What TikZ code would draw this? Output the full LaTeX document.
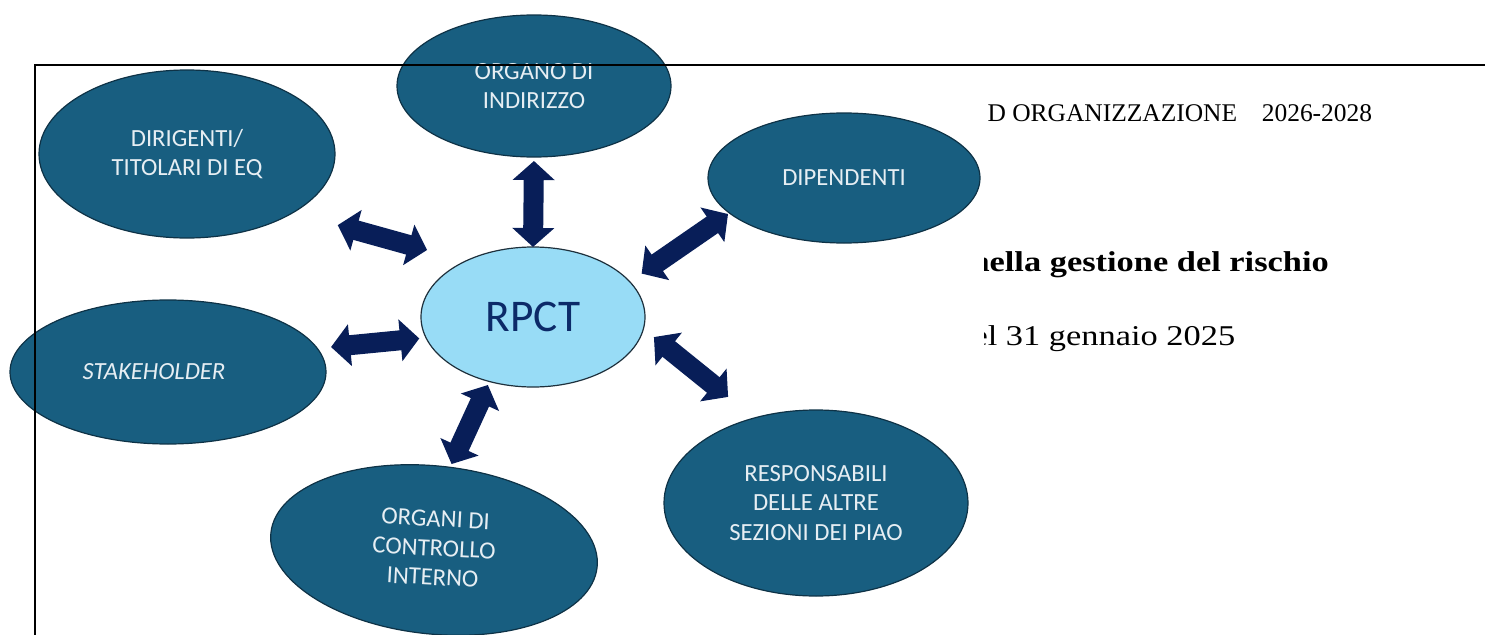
\documentclass[tikz,border=0pt]{standalone}
\usepackage{fontspec}
\setmainfont{Liberation Serif}
\newfontfamily\bubblefont{Carlito}
\newfontfamily\wideserif[FakeStretch=1.2]{Liberation Serif}
\usetikzlibrary{shapes.geometric,arrows.meta}

\definecolor{bubblefill}{RGB}{24,94,128}
\definecolor{bubbleline}{RGB}{14,50,70}
\definecolor{bubbletext}{RGB}{230,238,243}
\definecolor{rpctfill}{RGB}{152,220,246}
\definecolor{rpctline}{RGB}{30,48,60}
\definecolor{rpcttext}{RGB}{12,42,104}
\definecolor{arrownavy}{RGB}{8,30,88}

\tikzset{every picture/.style={line width=0.75pt}}
\tikzset{
  bubble/.style={ellipse, draw=bubbleline, fill=bubblefill, line width=0.9pt, inner sep=0pt, outer sep=0pt,
    text=bubbletext, align=center, font=\bubblefont\fontsize{18.5}{22}\selectfont},
  biarrow/.style={draw=arrownavy, line width=15pt,
    {Triangle[width=30.75pt,length=14.25pt]}-{Triangle[width=30.75pt,length=14.25pt]}}
}

\begin{document}
\begin{tikzpicture}[x=0.75pt,y=0.75pt,yscale=-1,xscale=1]
\path [use as bounding box] (0,0) rectangle (1485,635);

%Shape: Ellipse
\node [bubble, minimum width=205.5pt, minimum height=106.5pt] (org) at (534,86) {ORGANO DI\\INDIRIZZO};
%Shape: Ellipse
\node [bubble, minimum width=222pt, minimum height=126pt] (dir) at (187,154) {DIRIGENTI/\\TITOLARI DI EQ};
%Shape: Ellipse
\node [bubble, minimum width=204pt, minimum height=97.5pt] (dip) at (844,178) {DIPENDENTI};
%Shape: Ellipse
\node [bubble, minimum width=237pt, minimum height=108pt] (stk) at (168,372) {{\itshape STAKEHOLDER}\hspace{21pt}};
%Shape: Ellipse
\node [bubble, rotate=-6, minimum width=246pt, minimum height=126pt] (oci) at (434,550)
  {\rotatebox{3}{\begin{tabular}{@{}c@{}}ORGANI DI\\CONTROLLO\\INTERNO\end{tabular}}};
%Shape: Ellipse
\node [bubble, minimum width=228pt, minimum height=139.5pt] (res) at (816,503) {RESPONSABILI\\DELLE ALTRE\\SEZIONI DEI PIAO};
%Shape: Ellipse
\node [ellipse, draw=rpctline, fill=rpctfill, line width=0.9pt, inner sep=0pt, outer sep=0pt, minimum width=168pt, minimum height=105pt,
  text=rpcttext, font=\bubblefont\fontsize{34}{40}\selectfont] (rpct) at (533,317) {RPCT};

%Straight Lines
\draw [biarrow, shorten <=3pt] (org.south) -- (rpct.north);
%Straight Lines
\draw [biarrow, shorten <=34.9pt, shorten >=30.4pt] (dir.-29) -- (rpct.140);
%Straight Lines
\draw [biarrow, shorten <=1.3pt, shorten >=10.8pt] (dip.197) -- (rpct.20);
%Straight Lines
\draw [biarrow, shorten <=10.4pt, shorten >=5.1pt] (stk.9) -- (rpct.191);
%Straight Lines
\draw [biarrow, shorten <=2.7pt, shorten >=2.9pt] (oci.85) -- (rpct.236);
%Straight Lines
\draw [biarrow, shorten <=25.2pt, shorten >=10.1pt] (res.126) -- (rpct.-6);

% Text Node
\node [anchor=base west, inner sep=0pt, font=\fontsize{19.1}{23}\selectfont] (hdr) at (987,121.5) {D ORGANIZZAZIONE\hspace{18.5pt}2026-2028};
\begin{scope}
\clip (984,230) rectangle (1485,370);
% Text Node
\node [anchor=base west, inner sep=0pt, font=\wideserif\bfseries\fontsize{21.5}{26}\selectfont] (risk) at (970,271.5) {nella gestione del rischio};
% Text Node
\node [anchor=base west, inner sep=0pt, font=\wideserif\fontsize{21.5}{26}\selectfont] (date) at (972,345) {el 31 gennaio 2025};
\end{scope}

%Straight Lines
\draw [line width=1.5pt] (1485,65) -- (35,65) -- (35,635);

\end{tikzpicture}
\end{document}
